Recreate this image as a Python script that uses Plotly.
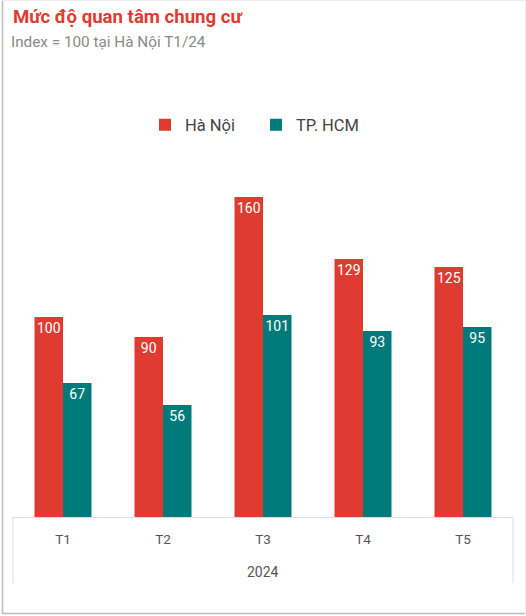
import plotly.graph_objects as go

months = ["T1", "T2", "T3", "T4", "T5"]
year_label = "2024"
hanoi = [100, 90, 160, 129, 125]
hcm = [67, 56, 101, 93, 95]
series_names = ["Hà Nội", "TP. HCM"]
title_text = "Mức độ quan tâm chung cư"
subtitle_text = "Index = 100 tại Hà Nội T1/24"

RED = "#E03B30"
TEAL = "#007A7A"
FONT = "Roboto, Arial, sans-serif"

fig = go.Figure()
for name, vals, col in [(series_names[0], hanoi, RED), (series_names[1], hcm, TEAL)]:
    fig.add_trace(go.Bar(
        x=months, y=vals, name=name,
        marker=dict(color=col, line=dict(width=0)),
        text=vals, texttemplate="%{text}",
        textposition="inside", insidetextanchor="end", textangle=0,
        constraintext="none",
        textfont=dict(color="white", size=14, family=FONT),
    ))

W, H = 526, 616
L, R, T, B = 13, 13, 157, 99
pw, ph = W - L - R, H - T - B
def px_x(x):
    return (x - L) / pw
def px_y(y):
    return (H - B - y) / ph

GRID = "#dddddd"

fig.update_layout(
    width=W, height=H,
    margin=dict(l=L, r=R, t=T, b=B),
    paper_bgcolor="white", plot_bgcolor="white",
    barmode="group", bargap=0.43, bargroupgap=0,
    font=dict(family=FONT, color="#555555"),
    showlegend=True,
    legend=dict(orientation="h", x=px_x(256), xanchor="center",
                y=px_y(125), yanchor="middle",
                font=dict(size=16.5, color="#444444", family=FONT),
                entrywidth=66, entrywidthmode="pixels",
                bgcolor="rgba(0,0,0,0)"),
    xaxis=dict(type="category", showline=True, linecolor=GRID, linewidth=1,
               ticks="", ticklabelstandoff=10,
               tickfont=dict(size=13.5, color="#555555", family=FONT),
               showgrid=False, zeroline=False),
    yaxis=dict(range=[0, 180], visible=False, showgrid=False, zeroline=False),
    annotations=[
        dict(text="<b>" + title_text + "</b>", xref="paper", yref="paper",
             x=px_x(11), y=px_y(17), xanchor="left", yanchor="middle",
             showarrow=False, font=dict(size=18.6, color=RED, family=FONT)),
        dict(text=subtitle_text, xref="paper", yref="paper",
             x=px_x(9), y=px_y(42), xanchor="left", yanchor="middle",
             showarrow=False, font=dict(size=15.3, color="#8a8a8a", family=FONT)),
        dict(text=year_label, xref="paper", yref="paper",
             x=0.5, y=px_y(572), xanchor="center", yanchor="middle",
             showarrow=False, font=dict(size=14, color="#555555", family=FONT)),
    ],
    shapes=[
        dict(type="line", xref="paper", yref="paper",
             x0=px_x(2.5), x1=px_x(2.5), y0=px_y(614), y1=px_y(0),
             line=dict(color="#bdbdbd", width=1.5)),
        dict(type="line", xref="paper", yref="paper",
             x0=px_x(2), x1=px_x(526), y0=px_y(613.5), y1=px_y(613.5),
             line=dict(color="#bdbdbd", width=1.5)),
        dict(type="line", xref="paper", yref="paper",
             x0=px_x(2), x1=px_x(526), y0=px_y(0.5), y1=px_y(0.5),
             line=dict(color="#ececec", width=1)),
        dict(type="line", xref="paper", yref="paper",
             x0=px_x(525.5), x1=px_x(525.5), y0=px_y(614), y1=px_y(0),
             line=dict(color="#f0f0f0", width=1)),
        dict(type="line", xref="paper", yref="paper",
             x0=0, x1=0, y0=0, y1=px_y(583), line=dict(color=GRID, width=1)),
        dict(type="line", xref="paper", yref="paper",
             x0=1, x1=1, y0=0, y1=px_y(583), line=dict(color=GRID, width=1)),
    ],
)

fig.write_html("out.html", config={"displayModeBar": False},
               post_script="document.body.style.margin='0';document.body.style.padding='0';")
